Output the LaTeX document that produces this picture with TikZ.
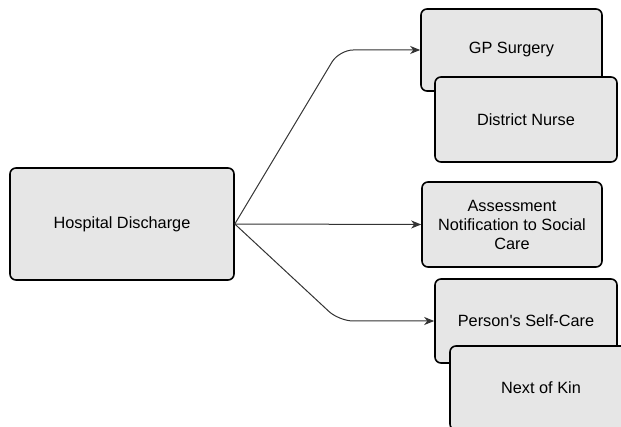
\documentclass[tikz,border=0pt]{standalone}
\usepackage{fontspec}
\setmainfont{Liberation Sans}
\usetikzlibrary{arrows.meta,positioning}
\definecolor{boxgray}{HTML}{E6E6E6}
\definecolor{linegray}{HTML}{333333}

\begin{document}
\begin{tikzpicture}[x=1pt, y=-1pt]
  \tikzset{>={Stealth[length=10pt, width=8pt, inset=3pt]},
    box/.style = {draw = black, line width = 1.6pt, fill = boxgray, rounded corners = 6pt,
      align = center, inner sep = 0pt, font = \fontsize{16.3}{19}\selectfont},
    link/.style = {->, draw = linegray, line width = 1pt, rounded corners = 14pt}}

  \clip (0,0) rectangle (621,427);

  \node[box, minimum width = 224pt, minimum height = 112pt] (discharge) at (122,224) {Hospital Discharge};

  \node[box, minimum width = 181pt, minimum height = 82pt] (gp) at (511.5,50) {GP Surgery};
  \node[box, minimum width = 182pt, minimum height = 85pt] (nurse) at (526,119.5) {District Nurse};
  \node[box, minimum width = 180pt, minimum height = 85pt] (social) at (512,224.5) {Assessment\\Notification to Social\\Care};
  \node[box, minimum width = 182pt, minimum height = 84pt] (selfcare) at (526,321) {Person\textquotesingle s Self-Care};
  \node[box, minimum width = 182pt, minimum height = 84pt] (kin) at (541,388) {Next of Kin};

  \draw[link] (discharge.east) -- ([xshift = -81pt]gp.west) -- (gp.west);
  \draw[link] (discharge.east) -- (social.west);
  \draw[link] (discharge.east) -- ([xshift = -95pt]selfcare.west) -- (selfcare.west);
\end{tikzpicture}
\end{document}
